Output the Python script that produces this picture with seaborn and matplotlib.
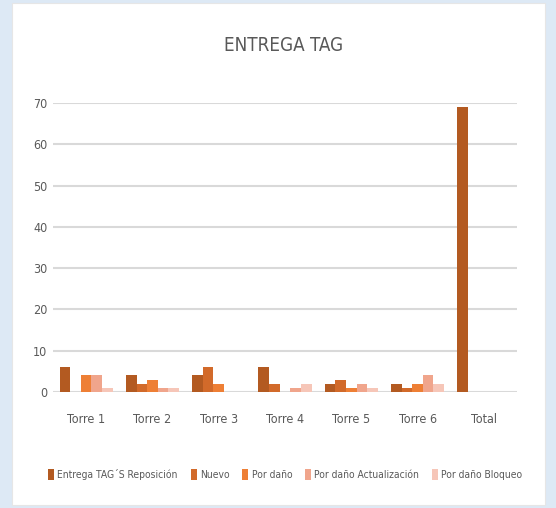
import matplotlib
matplotlib.use("Agg")
import matplotlib.pyplot as plt
import seaborn as sns
import pandas as pd
import numpy as np
from matplotlib.patches import Rectangle

categories = ["Torre 1", "Torre 2", "Torre 3", "Torre 4", "Torre 5", "Torre 6", "Total"]
series = ["Entrega TAG´S Reposición", "Nuevo", "Por daño", "Por daño Actualización", "Por daño Bloqueo"]
entrega = [6, 4, 4, 6, 2, 2, 69]
nuevo = [0, 2, 6, 2, 3, 1, np.nan]
por_dano = [4, 3, 2, 0, 1, 2, np.nan]
por_dano_act = [4, 1, 0, 1, 2, 4, np.nan]
por_dano_bloq = [1, 1, 0, 2, 1, 2, np.nan]
yticks = [0, 10, 20, 30, 40, 50, 60, 70]

colors = ["#b35a21", "#d26a2a", "#ee7f35", "#f0a58c", "#f6c6b8"]

rows = []
for s, vals in zip(series, [entrega, nuevo, por_dano, por_dano_act, por_dano_bloq]):
    for c, v in zip(categories, vals):
        rows.append({"cat": c, "serie": s, "valor": v})
df = pd.DataFrame(rows)

sns.set_theme(style="white")
plt.rcParams["font.family"] = ["DejaVu Sans"]
plt.rcParams["font.stretch"] = "condensed"

fig = plt.figure(figsize=(5.56, 5.08), dpi=100)
fig.patch.set_facecolor("#dde9f5")
fig.patches.append(Rectangle((12 / 556, 3 / 508), 533 / 556, 502 / 508,
                             transform=fig.transFigure, facecolor="white",
                             edgecolor="#e6e6e6", lw=0.8, zorder=-10))

ax = fig.add_axes([53 / 556, (508 - 392) / 508, 464 / 556, 289 / 508])
ax.set_zorder(5)
ax.set_facecolor("none")
sns.barplot(data=df, x="cat", y="valor", hue="serie", order=categories,
            hue_order=series, palette=colors, width=0.8, saturation=1,
            ax=ax, legend=True, zorder=3)

ax.set_ylim(0, 70)
ax.set_xlim(-0.5, 6.5)
ax.set_yticks(yticks)
ax.set_yticklabels([str(t) for t in yticks])
ax.yaxis.grid(True, color="#d9d9d9", lw=1.5, zorder=0)
ax.set_axisbelow(True)
for sp in ax.spines.values():
    sp.set_visible(False)
ax.set_xlabel("")
ax.set_ylabel("")
ax.tick_params(axis="both", length=0, labelsize=9, colors="#595959")
ax.tick_params(axis="x", pad=15)
ax.tick_params(axis="y", pad=4)

for p in ax.patches:
    p.set_edgecolor("none")

handles, labels = ax.get_legend_handles_labels()
ax.get_legend().remove()
fig.legend(handles, labels, loc="center", bbox_to_anchor=(0.513, 0.066), ncol=5,
           frameon=False, fontsize=7.4, handlelength=0.6, handleheight=1.2,
           handletextpad=0.3, columnspacing=1.25, labelcolor="#595959")

fig.text(0.51, 0.91, "ENTREGA TAG", ha="center", va="center", fontsize=13.5, color="#595959")

fig.savefig("out.png", dpi=100, facecolor=fig.get_facecolor())
